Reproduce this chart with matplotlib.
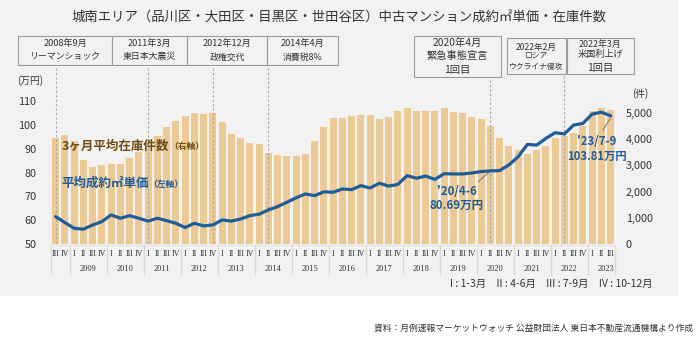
import matplotlib
matplotlib.use('Agg')
import matplotlib.pyplot as plt
from matplotlib.patches import Rectangle
import matplotlib.transforms as mtransforms

plt.rcParams['font.family'] = ['Noto Sans CJK JP', 'DejaVu Sans']

# ---------------- data ----------------
years = [2008] * 2 + [y for y in range(2009, 2023) for _ in range(4)] + [2023] * 3
quarters = ['III', 'IV'] + ['I', 'II', 'III', 'IV'] * 14 + ['I', 'II', 'III']
year_labels = [str(y) for y in range(2009, 2024)]

# 3ヶ月平均在庫件数 (right axis, 件)
inventory = [4030, 4160, 3930, 3210, 2950, 3010, 3070, 3050, 3270, 3500,
             3720, 4110, 4450, 4700, 4890, 5010, 4960, 5010, 4670, 4200,
             4060, 3870, 3830, 3460, 3400, 3350, 3350, 3430, 3940, 4450,
             4800, 4800, 4890, 4920, 4920, 4760, 4840, 5080, 5210, 5080,
             5080, 5080, 5210, 5030, 5010, 4860, 4760, 4500, 4060, 3750,
             3590, 3420, 3590, 3750, 4060, 4120, 4250, 4500, 5080, 5180,
             5120]

# 平均成約㎡単価 (left axis, 万円)
price = [61.5, 59.0, 56.6, 56.2, 58.0, 59.4, 62.2, 60.8, 61.9, 60.8,
         59.6, 60.8, 59.8, 58.7, 56.9, 58.7, 57.6, 58.0, 60.1, 59.6,
         60.5, 61.9, 62.5, 64.3, 65.7, 67.5, 69.4, 71.0, 70.3, 71.9,
         71.7, 73.1, 72.8, 74.5, 73.5, 75.5, 74.3, 75.0, 78.7, 77.6,
         78.5, 77.1, 79.5, 79.4, 79.4, 79.8, 80.4, 80.69, 80.8, 83.2,
         86.6, 91.8, 91.5, 94.3, 96.7, 96.2, 99.9, 100.6, 104.5, 105.3,
         103.81]

left_ticks = [50, 60, 70, 80, 90, 100, 110]
right_ticks = [0, 1000, 2000, 3000, 4000, 5000]

events_top = [("2008年9月", "リーマンショック"),
              ("2011年3月", "東日本大震災"),
              ("2012年12月", "政権交代"),
              ("2014年4月", "消費税8%")]
event_idx = [0, 10, 17, 23, 47, 55]

# ---------------- styling ----------------
W, H = 698, 338
BAR = '#EDCA93'
BLUE = '#1F5D99'
BROWN = '#6E4B10'
BG = '#F2F2F2'
DARK = '#333333'

def fx(x):
    return x / W

def fy(y):
    return 1 - y / H

fig = plt.figure(figsize=(W / 100, H / 100), dpi=100)
fig.patch.set_facecolor('white')
fig.add_artist(Rectangle((0, fy(296)), fx(678), 296 / H, transform=fig.transFigure,
                         facecolor=BG, edgecolor='none', zorder=0))

PL, PR, PT, PB = 51, 615.25, 100, 244
ax = fig.add_axes([fx(PL), fy(PB), (PR - PL) / W, (PB - PT) / H])
ax2 = ax.twinx()
ax.set_zorder(ax2.get_zorder() + 1)
ax.patch.set_visible(False)
ax2.patch.set_visible(False)

n = len(inventory)
xs = list(range(n))
ax2.bar(xs, inventory, width=0.78, color=BAR, edgecolor='none', zorder=1)
ax.plot(xs, price, color=BLUE, lw=2.3, solid_joinstyle='round', solid_capstyle='round', zorder=5)

ax.set_xlim(-0.5, n - 0.5)
ax2.set_xlim(-0.5, n - 0.5)
ax.set_ylim(50, 50 + 144 / 2.383)
ax2.set_ylim(0, 5500)

ax.set_yticks(left_ticks)
ax.set_yticklabels([str(t) for t in left_ticks])
ax2.set_yticks(right_ticks)
ax2.set_yticklabels([f"{t:,}" for t in right_ticks])
ax.set_xticks([])
ax.tick_params(axis='y', length=0, pad=10.5, labelsize=7.8, labelcolor=DARK)
ax2.tick_params(axis='y', length=0, pad=7.5, labelsize=7.8, labelcolor=DARK)
for a in (ax, ax2):
    for s in a.spines.values():
        s.set_visible(False)

fig.text(fx(30), fy(81), "(万円)", ha='center', va='center', fontsize=7, color=DARK)
fig.text(fx(640), fy(94), "(件)", ha='center', va='center', fontsize=7, color=DARK)

# event dashed lines
line_top_px = [68, 68, 68, 68, 80, 76]
for i, ytop in zip(event_idx, line_top_px):
    ax.plot([i, i], [(PB - ytop) / (PB - PT), 0], transform=ax.get_xaxis_transform(),
            clip_on=False, color='#A6A6A6', lw=0.8, dashes=(2, 2), zorder=3)

# event boxes
def box(x0, x1, y0, y1):
    fig.add_artist(Rectangle((fx(x0), fy(y1)), fx(x1) - fx(x0), (y1 - y0) / H,
                             transform=fig.transFigure, facecolor=BG,
                             edgecolor='#9A9A9A', lw=0.8, zorder=2))

top_edges = [18, 112, 187, 267, 338]
for k, (l1, l2) in enumerate(events_top):
    x0, x1 = top_edges[k], top_edges[k + 1]
    box(x0, x1, 36, 65)
    cx = (x0 + x1) / 2
    fig.text(fx(cx), fy(43.5), l1, ha='center', va='center', fontsize=6.6, color=DARK, zorder=3)
    fig.text(fx(cx), fy(57), l2, ha='center', va='center', fontsize=6.4, color=DARK, zorder=3)

box(414, 501, 36, 77)
for t, y in zip(["2020年4月", "緊急事態宣言", "1回目"], [43, 56, 69.5]):
    fig.text(fx(457.5), fy(y), t, ha='center', va='center', fontsize=7.4, color=DARK, zorder=3)
box(507, 566, 38, 74)
for t, y, s in zip(["2022年2月", "ロシア", "ウクライナ侵攻"], [47, 57, 67], [6.2, 5.6, 5.6]):
    fig.text(fx(536.5), fy(y), t, ha='center', va='center', fontsize=s, color=DARK, zorder=3)
box(567, 634, 38, 74)
for t, y, s in zip(["2022年3月", "米国利上げ", "1回目"], [44.5, 54, 68], [6.4, 6.6, 7.4]):
    fig.text(fx(600.5), fy(y), t, ha='center', va='center', fontsize=s, color=DARK, zorder=3)

# title
fig.text(fx(339), fy(18), "城南エリア（品川区・大田区・目黒区・世田谷区）中古マンション成約㎡単価・在庫件数",
         ha='center', va='center', fontsize=9.6, color=DARK)

# series labels
t1 = fig.text(fx(62), fy(146), "3ヶ月平均在庫件数", ha='left', va='center', fontsize=9,
              fontweight='bold', color=BROWN, zorder=6)
ax.annotate("（右軸）", xy=(1, 0.45), xycoords=t1, ha='left', va='center', fontsize=6.3,
            fontweight='bold', color=BROWN, annotation_clip=False)
t2 = fig.text(fx(61), fy(183.5), "平均成約㎡単価", ha='left', va='center', fontsize=9,
              fontweight='bold', color=BLUE, zorder=6)
ax.annotate("（左軸）", xy=(1, 0.45), xycoords=t2, ha='left', va='center', fontsize=6.3,
            fontweight='bold', color=BLUE, annotation_clip=False)

# callouts
ax.annotate("", xy=(47, price[47]), xytext=(478, H - 182), textcoords='figure pixels',
            arrowprops=dict(arrowstyle='-', color='#777777', lw=0.7, shrinkA=0, shrinkB=0))
fig.text(fx(457), fy(198.5), "'20/4-6\n80.69万円", ha='center', va='center', fontsize=8.3,
         fontweight='bold', color=BLUE, linespacing=1.15)
ax.annotate("", xy=(60, price[60] - 0.8), xytext=(603, H - 130), textcoords='figure pixels',
            arrowprops=dict(arrowstyle='-', color='#777777', lw=0.7, shrinkA=0, shrinkB=0))
fig.text(fx(597), fy(149), "'23/7-9\n103.81万円", ha='center', va='center', fontsize=8.2,
         fontweight='bold', color=BLUE, linespacing=1.15)

# x-axis table
bt = mtransforms.blended_transform_factory(ax.transData, fig.transFigure)
seps = [-0.5, 1.5] + [1.5 + 4 * k for k in range(1, 15)] + [n - 0.5]
for s in seps:
    fig.add_artist(plt.Line2D([s, s], [fy(245), fy(274)], transform=bt, color='#D9D9D9', lw=1.0))
fig.add_artist(plt.Line2D([-0.5, n - 0.5], [fy(245.3), fy(245.3)], transform=bt, color='#E2E2E2', lw=0.8))
for i, q in enumerate(quarters):
    fig.text(i, fy(254), q, transform=bt, ha='center', va='center', fontsize=5.8,
             family='Liberation Serif', color=DARK)
for k, yl in enumerate(year_labels):
    idxs = [i for i, y in enumerate(years) if str(y) == yl]
    cx = (idxs[0] + idxs[-1]) / 2 if yl != '2023' else 2 + 4 * 14 + 1.5
    fig.text(cx, fy(269), yl, transform=bt, ha='center', va='center', fontsize=6,
             family='Liberation Serif', color=DARK)

fig.text(fx(551), fy(284), "I : 1-3月　II : 4-6月　III : 7-9月　IV : 10-12月", ha='center',
         va='center', fontsize=7.5, color=DARK)
fig.text(fx(693), fy(328), "資料：月例速報マーケットウォッチ 公益財団法人 東日本不動産流通機構より作成",
         ha='right', va='center', fontsize=6.3, color=DARK)

fig.savefig('out.png', dpi=100, facecolor='white')
